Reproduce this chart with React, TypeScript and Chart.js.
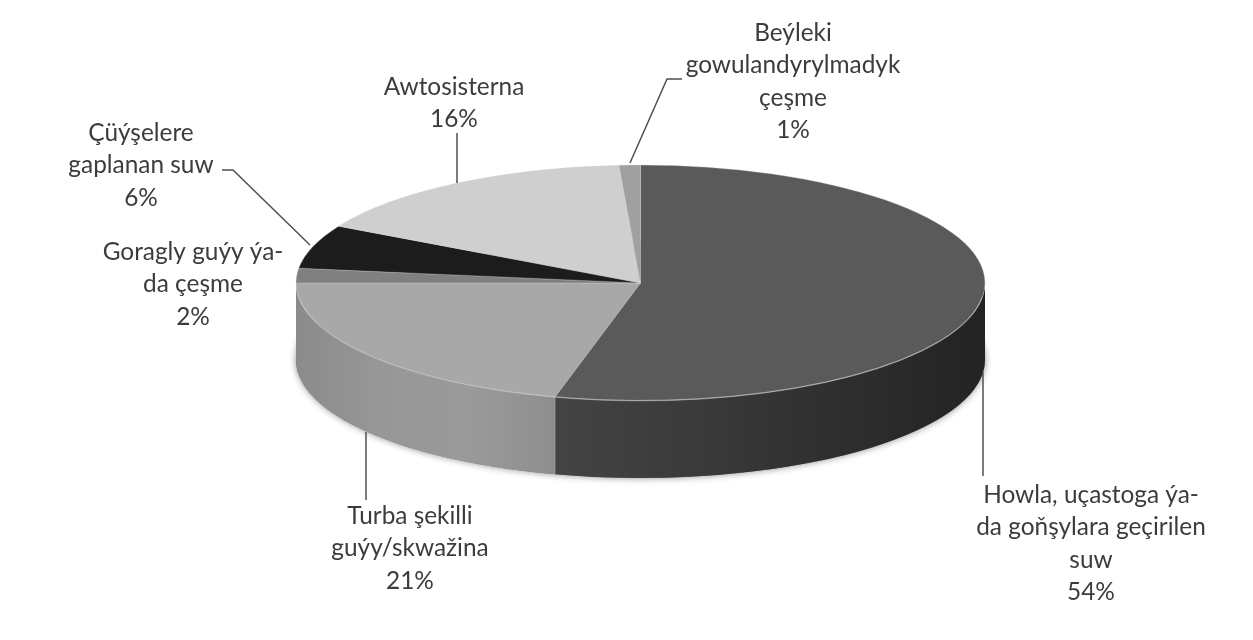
import React, { useEffect, useRef } from "react";
import { Chart, registerables } from "chart.js";

Chart.register(...registerables);

const categories = [
  "Howla, uçastoga ýa-da goňşylara geçirilen suw",
  "Turba şekilli guýy/skwažina",
  "Goragly guýy ýa-da çeşme",
  "Çüýşelere gaplanan suw",
  "Awtosisterna",
  "Beýleki gowulandyrylmadyk çeşme",
];
const shares = [54, 21, 2, 6, 16, 1];
const topColors = ["#5a5a5a", "#a8a8a8", "#808080", "#1c1c1c", "#cfcfcf", "#a0a0a0"];
const wallStops: string[][] = [
  ["#444444", "#3a3a3a", "#2e2e2e", "#232323"],
  ["#8e8e8e", "#9a9a9a", "#979797", "#8b8b8b"],
  ["#6a6a6a", "#6a6a6a", "#6a6a6a", "#6a6a6a"],
  ["#111111", "#111111", "#111111", "#111111"],
  ["#aaaaaa", "#aaaaaa", "#aaaaaa", "#aaaaaa"],
  ["#888888", "#888888", "#888888", "#888888"],
];
const labelLines = [
  ["Howla, uçastoga ýa-", "da goňşylara geçirilen", "suw"],
  ["Turba şekilli", "guýy/skwažina"],
  ["Goragly guýy ýa-", "da çeşme"],
  ["Çüýşelere", "gaplanan suw"],
  ["Awtosisterna"],
  ["Beýleki", "gowulandyrylmadyk", "çeşme"],
];
const labelCenterX = [1091, 410, 193, 141, 454, 793];
const labelFirstLineY = [495, 516, 252, 133, 87, 33];
const leaders: number[][][] = [
  [[983, 372], [983, 476]],
  [[366, 432], [366, 500]],
  [],
  [[222, 170], [233, 170], [310, 245]],
  [[457, 133], [457, 183]],
  [[682, 79], [667, 79], [630, 163]],
];

const RADIUS = 344.5;
const SQUASH = 118 / 344.5;
const DEPTH = 77;
const LINE_HEIGHT = 32.5;

const pie3d = {
  id: "pie3d",
  beforeDatasetsDraw(chart: any) {
    const { ctx } = chart;
    const arcs = chart.getDatasetMeta(0).data;
    const { x, y, outerRadius: r } = arcs[0];
    const ry = r * SQUASH;

    // soft shadow of the pie's base
    ctx.save();
    ctx.shadowColor = "rgba(0,0,0,0.45)";
    ctx.shadowBlur = 7;
    ctx.fillStyle = "#777";
    ctx.beginPath();
    ctx.ellipse(x, y + DEPTH, r, ry, 0, 0, Math.PI * 2);
    ctx.fill();
    ctx.restore();

    // side walls from each arc's front part
    arcs.forEach((arc: any, i: number) => {
      const a0 = Math.max(arc.startAngle, 0);
      const a1 = Math.min(arc.endAngle, Math.PI);
      if (a1 <= a0) return;
      const xa = x + r * Math.cos(a0);
      const xb = x + r * Math.cos(a1);
      const g = ctx.createLinearGradient(xb, 0, xa, 0);
      const stops = i === 0 ? [...wallStops[i]] : [...wallStops[i]].reverse();
      stops.forEach((c, k) => g.addColorStop(k / (stops.length - 1), c));
      ctx.fillStyle = g;
      ctx.beginPath();
      ctx.ellipse(x, y, r, ry, 0, a0, a1);
      ctx.ellipse(x, y + DEPTH, r, ry, 0, a1, a0, true);
      ctx.closePath();
      ctx.fill();
      if (a1 < Math.PI) {
        ctx.strokeStyle = "rgba(205,205,205,0.85)";
        ctx.lineWidth = 1;
        ctx.beginPath();
        ctx.moveTo(xb, y + ry * Math.sin(a1));
        ctx.lineTo(xb, y + DEPTH + ry * Math.sin(a1));
        ctx.stroke();
      }
    });

    ctx.save();
    ctx.translate(x, y);
    ctx.scale(1, SQUASH);
    ctx.translate(-x, -y);
  },
  afterDatasetsDraw(chart: any) {
    const { ctx } = chart;
    ctx.restore();
    const arcs = chart.getDatasetMeta(0).data;
    const { x, y, outerRadius: r } = arcs[0];
    const ry = r * SQUASH;

    // light rim on the front of the top face
    ctx.save();
    ctx.strokeStyle = "rgba(200,200,200,0.7)";
    ctx.lineWidth = 1;
    ctx.beginPath();
    ctx.ellipse(x, y, r - 0.5, ry - 0.5, 0, 0.12, Math.PI - 0.12);
    ctx.stroke();
    ctx.restore();

    // leader lines
    ctx.save();
    ctx.strokeStyle = "#505050";
    ctx.lineWidth = 1.5;
    leaders.forEach((pts) => {
      if (!pts.length) return;
      ctx.beginPath();
      pts.forEach(([px, py], k) => (k ? ctx.lineTo(px, py) : ctx.moveTo(px, py)));
      ctx.stroke();
    });

    // data labels
    ctx.fillStyle = "#3c3c3c";
    ctx.font = '24.4px Lato, "Open Sans", sans-serif';
    ctx.textAlign = "center";
    ctx.textBaseline = "middle";
    labelLines.forEach((lines, i) => {
      [...lines, `${shares[i]}%`].forEach((t, k) => {
        ctx.fillText(t, labelCenterX[i], labelFirstLineY[i] + k * LINE_HEIGHT);
      });
    });
    ctx.restore();
  },
};

export default function App() {
  const ref = useRef<HTMLCanvasElement>(null);
  useEffect(() => {
    const chart = new Chart(ref.current!, {
      type: "pie",
      data: {
        labels: categories,
        datasets: [
          {
            data: shares,
            backgroundColor: topColors,
            borderColor: "rgba(215,215,215,0.45)",
            borderWidth: 1,
            clip: false,
          } as any,
        ],
      },
      options: {
        animation: false,
        responsive: false,
        radius: RADIUS,
        layout: { padding: { left: 28, bottom: 74 } },
        plugins: { legend: { display: false }, tooltip: { enabled: false } },
      } as any,
      plugins: [pie3d],
    });
    return () => chart.destroy();
  }, []);
  return (
    <canvas
      ref={ref}
      width={1253}
      height={640}
      style={{ position: "fixed", left: 0, top: 0, width: 1253, height: 640, background: "#fff", filter: "blur(0.55px)" }}
    />
  );
}
